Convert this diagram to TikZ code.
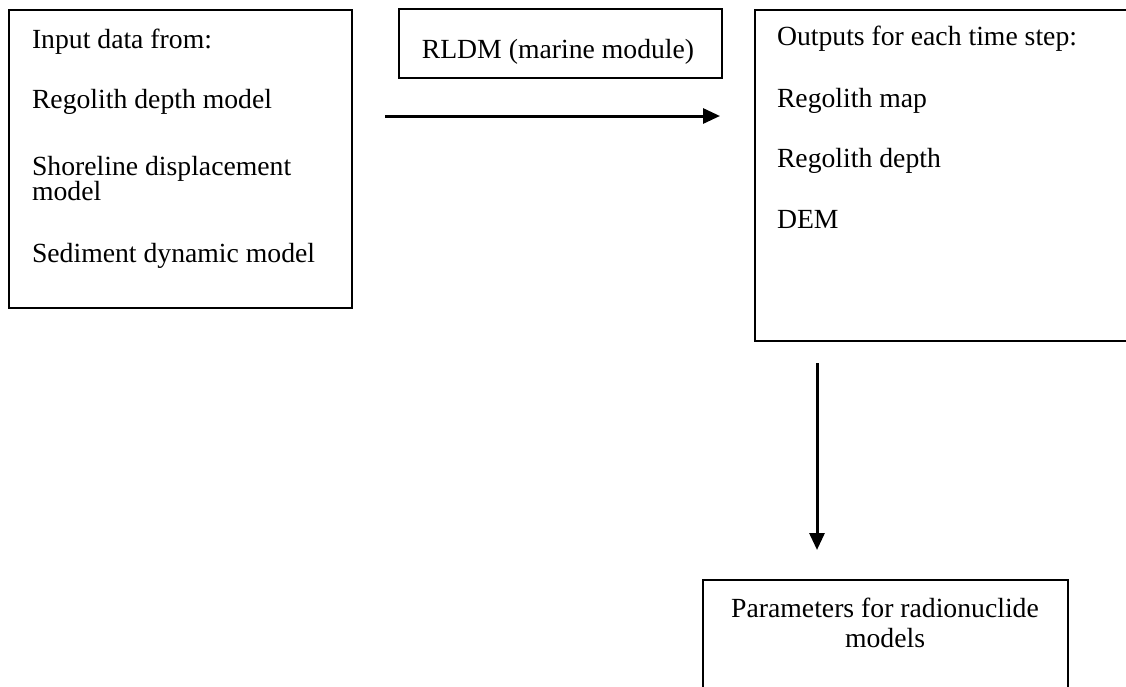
\documentclass[tikz,border=0pt]{standalone}
\usepackage{fontspec}
\setmainfont{Liberation Serif}
\usetikzlibrary{arrows.meta}
\begin{document}
\begin{tikzpicture}[x=1pt,y=-1pt,
  boxframe/.style={draw=black,line width=2.2pt,rectangle,inner sep=0pt,outer sep=0pt},
  txt/.style={inner sep=0pt,outer sep=0pt,font=\fontsize{27.7}{25}\selectfont},
  flow/.style={line width=3pt,-{Triangle[length=17pt,width=15pt]}}]
\useasboundingbox (0,0) rectangle (1126,686);
\clip (0,0) rectangle (1126,686);
\fill[white] (0,0) rectangle (1126,686);
% boxes
\node[boxframe,minimum width=343pt,minimum height=298pt,anchor=north west] (inbox) at (9,10) {};
\node[boxframe,minimum width=323pt,minimum height=69pt,anchor=north west] (rldm) at (399,9) {};
\node[boxframe,minimum width=400pt,minimum height=331pt,anchor=north west] (outbox) at (755,10) {};
\node[boxframe,minimum width=365pt,minimum height=140pt,anchor=north west] (parbox) at (703,580) {};
% texts
\node[txt,anchor=base west] (t1) at (32,48) {Input data from:};
\node[txt,anchor=base west] (t2) at (32,108) {Regolith depth model};
\node[txt,anchor=base west] (t3) at (32,175) {Shoreline displacement};
\node[txt,anchor=base west] (t4) at (32,200) {model};
\node[txt,anchor=base west] (t5) at (32,262) {Sediment dynamic model};
\node[txt,anchor=base] (r1) at (558,58) {RLDM (marine module)};
\node[txt,anchor=base west] (o1) at (777,45) {Outputs for each time step:};
\node[txt,anchor=base west] (o2) at (777,107) {Regolith map};
\node[txt,anchor=base west] (o3) at (777,167) {Regolith depth};
\node[txt,anchor=base west] (o4) at (777,228) {DEM};
\node[txt,anchor=base] (p1) at (885,617) {Parameters for radionuclide};
\node[txt,anchor=base] (p2) at (885,647) {models};
% connectors
\coordinate (hA) at (385,116);
\coordinate (hB) at (720,116);
\coordinate (vA) at (817,363);
\coordinate (vB) at (817,550);
\draw[flow] (hA) -- (hB);
\draw[flow] (vA) -- (vB);
\end{tikzpicture}
\end{document}
